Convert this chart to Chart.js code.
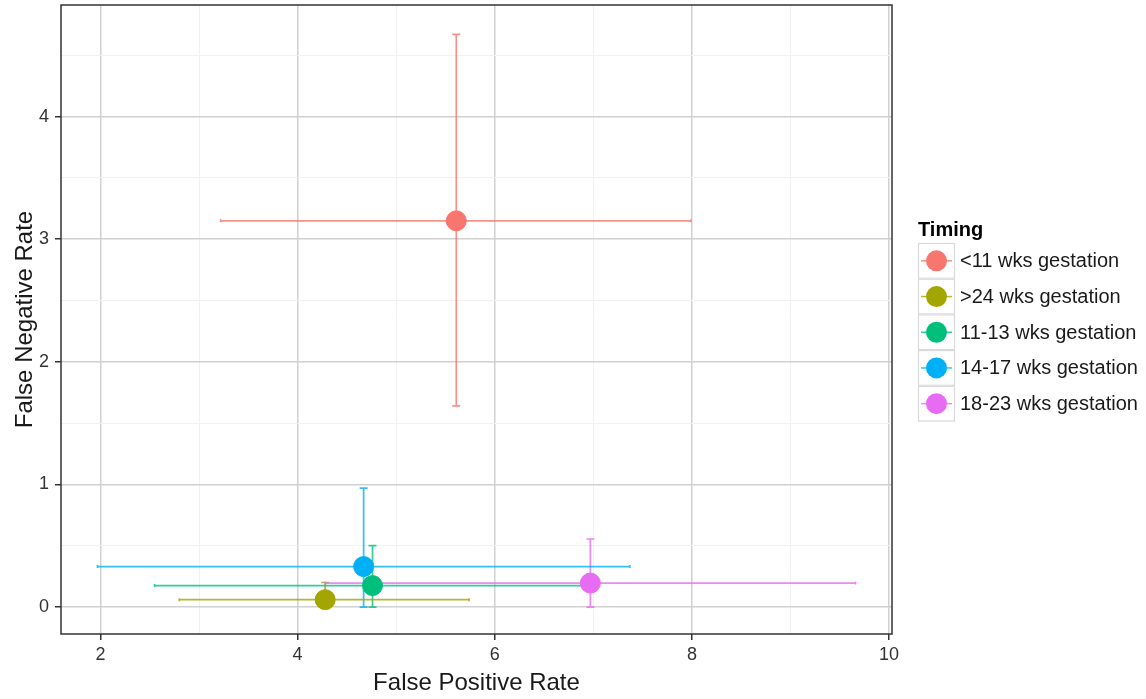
<!DOCTYPE html>
<html>
<head>
<meta charset="utf-8">
<script src="https://cdn.jsdelivr.net/npm/chart.js@4"></script>
<style>
  html, body { margin: 0; padding: 0; background: #ffffff; }
  canvas { display: block; }
</style>
</head>
<body>
<canvas id="c" width="1146" height="699"></canvas>
<script>
// ---- data ----
const categories = ['<11 wks gestation', '>24 wks gestation', '11-13 wks gestation', '14-17 wks gestation', '18-23 wks gestation'];
const colors = ['#F8766D', '#A3A500', '#00BF7D', '#00B0F6', '#E76BF3'];
const fpr = [5.61, 4.28, 4.76, 4.67, 6.97];
const fprLow = [3.22, 2.80, 2.55, 1.97, 4.28];
const fprHigh = [7.99, 5.74, 6.97, 7.37, 9.66];
const fnr = [3.15, 0.06, 0.175, 0.33, 0.195];
const fnrLow = [1.64, 0.00, 0.00, 0.00, 0.00];
const fnrHigh = [4.67, 0.20, 0.50, 0.97, 0.555];
const xTickLabels = [2, 4, 6, 8, 10];
const yTickLabels = [0, 1, 2, 3, 4];
const xMinorGrid = [3, 5, 7, 9];
const yMinorGrid = [0.5, 1.5, 2.5, 3.5, 4.5];
const legendTitle = 'Timing';
const xTitle = 'False Positive Rate';
const yTitle = 'False Negative Rate';

const FONT = "'Liberation Sans', Arial, sans-serif";

function rgba(hex, a) {
  const n = parseInt(hex.slice(1), 16);
  return `rgba(${(n >> 16) & 255},${(n >> 8) & 255},${n & 255},${a})`;
}

const datasets = categories.map((c, i) => ({
  label: c,
  data: [{ x: fpr[i], y: fnr[i] }],
  backgroundColor: colors[i],
  borderColor: colors[i],
  borderWidth: 1,
  pointRadius: 10,
  pointHoverRadius: 10,
  pointStyle: 'circle'
}));

const errorBars = {
  id: 'errorBars',
  beforeDatasetsDraw(chart) {
    const { ctx, scales: { x, y } } = chart;
    ctx.save();
    ctx.lineWidth = 1.7;
    // vertical error bars
    categories.forEach((c, i) => {
      ctx.strokeStyle = rgba(colors[i], 0.8);
      const px = x.getPixelForValue(fpr[i]);
      const y0 = y.getPixelForValue(fnrLow[i]);
      const y1 = y.getPixelForValue(fnrHigh[i]);
      ctx.beginPath();
      ctx.moveTo(px, y0); ctx.lineTo(px, y1);
      ctx.moveTo(px - 4, y0); ctx.lineTo(px + 4, y0);
      ctx.moveTo(px - 4, y1); ctx.lineTo(px + 4, y1);
      ctx.stroke();
    });
    // horizontal error bars
    categories.forEach((c, i) => {
      ctx.strokeStyle = rgba(colors[i], 0.8);
      const py = y.getPixelForValue(fnr[i]);
      const x0 = x.getPixelForValue(fprLow[i]);
      const x1 = x.getPixelForValue(fprHigh[i]);
      ctx.beginPath();
      ctx.moveTo(x0, py); ctx.lineTo(x1, py);
      ctx.moveTo(x0, py - 1.5); ctx.lineTo(x0, py + 1.5);
      ctx.moveTo(x1, py - 1.5); ctx.lineTo(x1, py + 1.5);
      ctx.stroke();
    });
    ctx.restore();
  },
  afterDraw(chart) {
    const { ctx, chartArea: a } = chart;
    ctx.save();
    // panel border
    ctx.strokeStyle = '#333333';
    ctx.lineWidth = 1.5;
    ctx.strokeRect(a.left, a.top, a.right - a.left, a.bottom - a.top);
    // legend
    const lx = 918, boxW = 37, boxH = 35.7, top0 = 243;
    ctx.fillStyle = '#000000';
    ctx.font = `bold 20px ${FONT}`;
    ctx.textBaseline = 'middle';
    ctx.textAlign = 'left';
    ctx.fillText(legendTitle, lx, 230);
    categories.forEach((c, i) => {
      const by = top0 + i * boxH;
      ctx.fillStyle = '#ffffff';
      ctx.fillRect(lx, by, boxW, boxH);
      ctx.strokeStyle = '#d9d9d9';
      ctx.lineWidth = 1.2;
      ctx.strokeRect(lx + 0.5, by + 0.5, boxW - 1, boxH - 1);
      const cx = lx + boxW / 2, cy = by + boxH / 2;
      ctx.strokeStyle = rgba(colors[i], 0.8);
      ctx.lineWidth = 1.5;
      ctx.beginPath();
      ctx.moveTo(lx + 3, cy); ctx.lineTo(lx + boxW - 3, cy);
      ctx.stroke();
      ctx.fillStyle = colors[i];
      ctx.beginPath();
      ctx.arc(cx, cy, 10.5, 0, Math.PI * 2);
      ctx.fill();
      ctx.fillStyle = '#1a1a1a';
      ctx.font = `20px ${FONT}`;
      ctx.fillText(c, 960, cy + 1);
    });
    ctx.restore();
  }
};

const isMajorX = v => xTickLabels.includes(v);
const isMajorY = v => yTickLabels.includes(v);

new Chart(document.getElementById('c'), {
  type: 'scatter',
  data: { datasets },
  options: {
    responsive: false,
    animation: false,
    devicePixelRatio: 1,
    layout: { autoPadding: false, padding: { left: 0, top: 5, right: 254, bottom: 0 } },
    plugins: { legend: { display: false }, tooltip: { enabled: false } },
    scales: {
      x: {
        type: 'linear',
        min: 1.6,
        max: 10.03,
        afterBuildTicks(axis) {
          axis.ticks = xTickLabels.concat(xMinorGrid).sort((a, b) => a - b).map(v => ({ value: v }));
        },
        afterFit(axis) { axis.height = 65; axis.paddingLeft = 0; axis.paddingRight = 0; },
        border: { display: false },
        grid: {
          color: c => isMajorX(c.tick.value) ? '#d0d0d0' : '#f1f1f1',
          lineWidth: c => isMajorX(c.tick.value) ? 1.5 : 1,
          tickColor: c => isMajorX(c.tick.value) ? '#333333' : 'rgba(0,0,0,0)',
          tickLength: 6,
          tickWidth: 1.5
        },
        ticks: {
          callback: v => isMajorX(v) ? String(v) : '',
          font: { family: FONT, size: 18 },
          color: '#333333',
          padding: 4,
          maxRotation: 0,
          autoSkip: false
        },
        title: {
          display: true,
          text: xTitle,
          font: { family: FONT, size: 24 },
          color: '#1a1a1a',
          padding: { top: 0, bottom: 1 }
        }
      },
      y: {
        type: 'linear',
        min: -0.22,
        max: 4.91,
        afterBuildTicks(axis) {
          axis.ticks = yTickLabels.concat(yMinorGrid).sort((a, b) => a - b).map(v => ({ value: v }));
        },
        afterFit(axis) { axis.width = 61; axis.paddingTop = 0; axis.paddingBottom = 0; },
        border: { display: false },
        grid: {
          color: c => isMajorY(c.tick.value) ? '#d0d0d0' : '#f1f1f1',
          lineWidth: c => isMajorY(c.tick.value) ? 1.5 : 1,
          tickColor: c => isMajorY(c.tick.value) ? '#333333' : 'rgba(0,0,0,0)',
          tickLength: 6,
          tickWidth: 1.5
        },
        ticks: {
          callback: v => isMajorY(v) ? String(v) : '',
          font: { family: FONT, size: 18 },
          color: '#333333',
          padding: 6,
          autoSkip: false
        },
        title: {
          display: true,
          text: yTitle,
          font: { family: FONT, size: 24 },
          color: '#1a1a1a',
          padding: { top: 11, bottom: 0 }
        }
      }
    }
  },
  plugins: [errorBars]
});
</script>
</body>
</html>
